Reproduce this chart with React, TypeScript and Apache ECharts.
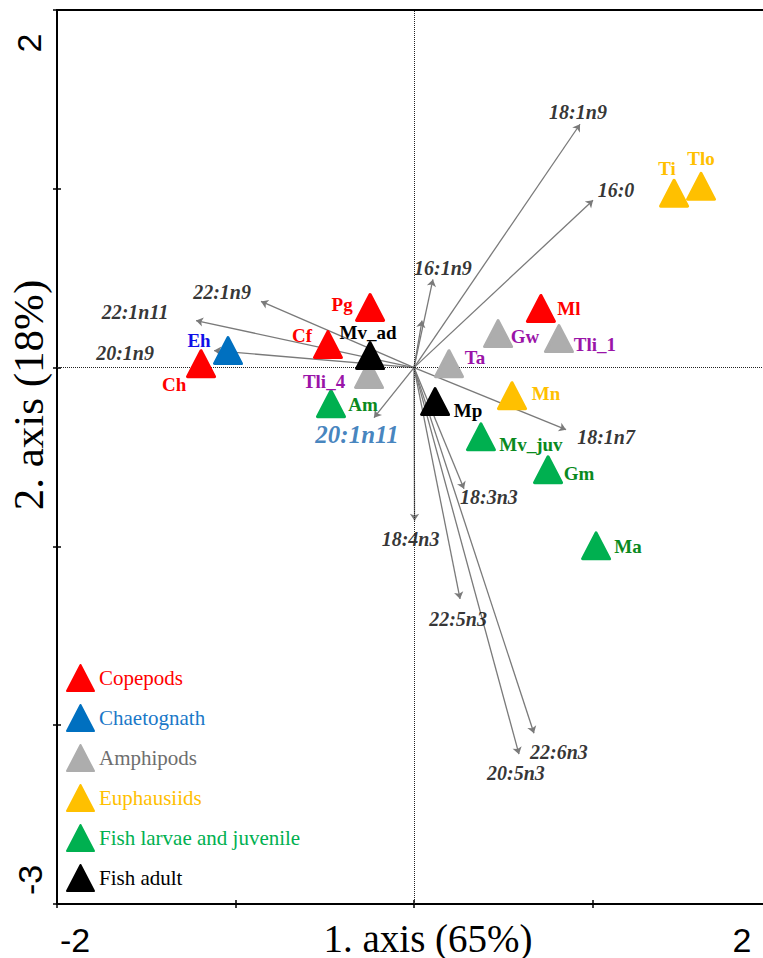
import React, { useEffect, useRef } from 'react';
import * as echarts from 'echarts';

// ---- data ----
const groups = ['Copepods', 'Chaetognath', 'Amphipods', 'Euphausiids', 'Fish larvae and juvenile', 'Fish adult'];

const speciesNames = ['Pg', 'Cf', 'Ch', 'Ml', 'Eh', 'Tli_4', 'Gw', 'Tli_1', 'Ta', 'Ti', 'Tlo', 'Mn', 'Am', 'Mv_juv', 'Gm', 'Ma', 'Mv_ad', 'Mp'];
const speciesX = [-0.246, -0.482, -1.193, 0.711, -1.042, -0.252, 0.471, 0.812, 0.196, 1.457, 1.608, 0.549, -0.465, 0.375, 0.751, 1.02, -0.246, 0.118];
const speciesY = [0.336, 0.129, 0.022, 0.331, 0.095, -0.039, 0.19, 0.162, 0.022, 0.975, 1.014, -0.157, -0.202, -0.387, -0.571, -0.997, 0.067, -0.19];
const speciesGroup = [0, 0, 0, 0, 1, 2, 2, 2, 2, 3, 3, 3, 4, 4, 4, 4, 5, 5];

const vectorNames = ['18:1n9', '16:0', '16:1n9', '', '22:1n9', '22:1n11', '20:1n9', '20:1n11', '18:1n7', '18:3n3', '18:4n3', '22:5n3', '22:6n3', '20:5n3'];
const vectorX = [0.93, 1.003, 0.106, 0.045, -0.857, -1.221, -1.12, -0.224, 0.852, 0.28, 0.003, 0.258, 0.672, 0.588];
const vectorY = [1.361, 0.936, 0.493, 0.263, 0.37, 0.263, 0.095, -0.28, -0.347, -0.678, -0.857, -1.294, -2.045, -2.162];

const xTickLabels = ['-2', '2'];
const yTickLabels = ['2', '-3'];
const xTitle = '1. axis (65%)';
const yTitle = '2. axis (18%)';

// ---- styles ----
const groupColors = ['#FF0000', '#0070C0', '#ADADAD', '#FFC000', '#00B050', '#000000'];
const groupLabelColors = ['#FF0000', '#1010E8', '#9A14A8', '#FFC000', '#0A8A1E', '#000000'];
const legendTextColors = ['#FF0000', '#1A78C8', '#6E6E6E', '#FFC000', '#00B050', '#000000'];

const speciesLabelOffset: Record<string, number[]> = {
  Pg: [-28, -3], Cf: [-26, -9], Mv_ad: [-2, -23], Tli_4: [-45, 7], Am: [32, 1], Eh: [-29, -10],
  Ch: [-27, 21], Ml: [28, 0], Gw: [27, 3], Tli_1: [36, 6], Ta: [26, -6], Mn: [34, -2],
  Mp: [33, 9], Mv_juv: [50, 8], Gm: [31, 4], Ma: [32, 1], Ti: [-7, -25], Tlo: [0, -28],
};
const vectorLabelOffset: Record<string, number[]> = {
  '18:1n9': [-2, -12], '16:0': [23, -10], '16:1n9': [10, -11], '22:1n9': [-39, -9],
  '22:1n11': [-61, -9], '20:1n9': [-89, 2], '20:1n11': [-17, 17], '18:1n7': [40, 7],
  '18:3n3': [25, 8], '18:4n3': [-4, 18], '22:5n3': [-2, 20], '22:6n3': [25, 19], '20:5n3': [-3, 19],
};

const SERIF = '"Liberation Serif", "Times New Roman", Times, serif';
const SANS = '"Liberation Sans", Arial, Helvetica, sans-serif';

function makeAxis(kind: 'x' | 'y', inside: boolean) {
  return {
    type: 'value',
    min: kind === 'x' ? -2 : -3,
    max: 2,
    interval: 1,
    position: kind === 'x' ? 'bottom' : 'left',
    axisLine: { show: false, onZero: false },
    splitLine: { show: false },
    axisLabel: { show: false },
    axisTick: { show: true, inside, length: 4, lineStyle: { color: '#000', width: 1.5 } },
  };
}

export default function App() {
  const ref = useRef<HTMLDivElement>(null);

  useEffect(() => {
    if (!ref.current) return;
    const chart = echarts.init(ref.current, undefined, { renderer: 'svg' });

    const groupSeries = groups.map((g, gi) => ({
      type: 'scatter',
      name: g,
      symbol: 'triangle',
      symbolSize: [27, 26],
      z: 5,
      itemStyle: { color: groupColors[gi], borderColor: groupColors[gi], borderWidth: 3, borderJoin: 'round', opacity: 1 },
      data: speciesNames
        .map((n, i) => ({ n, i }))
        .filter((o) => speciesGroup[o.i] === gi)
        .map(({ n, i }) => ({
          name: n,
          value: [speciesX[i], speciesY[i]],
          label: {
            show: true,
            position: 'inside',
            offset: speciesLabelOffset[n] || [0, 0],
            formatter: n,
            color: groupLabelColors[gi],
            fontFamily: SERIF,
            fontWeight: 'bold',
            fontSize: 19,
          },
        })),
    }));

    const option: any = {
      animation: false,
      grid: { left: 57, top: 10, width: 714, height: 894, show: true, borderColor: '#000', borderWidth: 2, containLabel: false },
      xAxis: [makeAxis('x', false), makeAxis('x', true)],
      yAxis: [makeAxis('y', false), makeAxis('y', true)],
      legend: {
        orient: 'vertical',
        left: 66,
        top: 664,
        itemWidth: 27,
        itemHeight: 26,
        itemGap: 12,
        padding: 0,
        textStyle: { fontFamily: SERIF, fontSize: 21 },
        data: groups.map((g, i) => ({ name: g, icon: 'triangle', textStyle: { color: legendTextColors[i] } })),
      },
      graphic: [
        { type: 'text', x: 75, y: 940, style: { text: xTickLabels[0], fontFamily: SANS, fontSize: 34, fill: '#000', textAlign: 'center', textVerticalAlign: 'middle' } },
        { type: 'text', x: 742, y: 940, style: { text: xTickLabels[1], fontFamily: SANS, fontSize: 34, fill: '#000', textAlign: 'center', textVerticalAlign: 'middle' } },
        { type: 'text', x: 29, y: 43, rotation: Math.PI / 2, style: { text: yTickLabels[0], fontFamily: SANS, fontSize: 34, fill: '#000', textAlign: 'center', textVerticalAlign: 'middle' } },
        { type: 'text', x: 30, y: 880, rotation: Math.PI / 2, style: { text: yTickLabels[1], fontFamily: SANS, fontSize: 34, fill: '#000', textAlign: 'center', textVerticalAlign: 'middle' } },
        { type: 'text', x: 428, y: 938, style: { text: xTitle, fontFamily: SERIF, fontSize: 39, fill: '#000', textAlign: 'center', textVerticalAlign: 'middle' } },
        { type: 'text', x: 28, y: 395, rotation: Math.PI / 2, style: { text: yTitle, fontFamily: SERIF, fontSize: 43, fill: '#000', textAlign: 'center', textVerticalAlign: 'middle' } },
      ],
      series: [
        {
          type: 'lines',
          coordinateSystem: 'cartesian2d',
          z: 2,
          symbol: ['none', 'arrow'],
          symbolSize: 7,
          lineStyle: { color: '#7A7A7A', width: 1.3, opacity: 1 },
          data: vectorNames.map((n, i) => ({ coords: [[0, 0], [vectorX[i], vectorY[i]]] })),
          silent: true,
        },
        {
          type: 'scatter',
          name: 'vectors',
          z: 3,
          symbolSize: 1,
          itemStyle: { color: 'rgba(0,0,0,0)' },
          data: vectorNames.map((n, i) => ({
            name: n,
            value: [vectorX[i], vectorY[i]],
            label: {
              show: n !== '',
              position: 'inside',
              offset: vectorLabelOffset[n] || [0, 0],
              formatter: n,
              fontFamily: SERIF,
              fontStyle: 'italic',
              fontWeight: 'bold',
              fontSize: n === '20:1n11' ? 25 : 20,
              color: n === '20:1n11' ? '#1565AE' : '#000',
            },
          })),
          markLine: {
            silent: true,
            symbol: ['none', 'none'],
            label: { show: false },
            lineStyle: { type: [1, 1], color: '#222', width: 1, opacity: 1 },
            data: [{ xAxis: 0 }, { yAxis: 0 }],
          },
        },
        ...groupSeries,
      ],
    };

    chart.setOption(option);
    return () => chart.dispose();
  }, []);

  return <div ref={ref} style={{ position: 'fixed', left: 0, top: 0, width: 800, height: 958, background: '#fff' }} />;
}
